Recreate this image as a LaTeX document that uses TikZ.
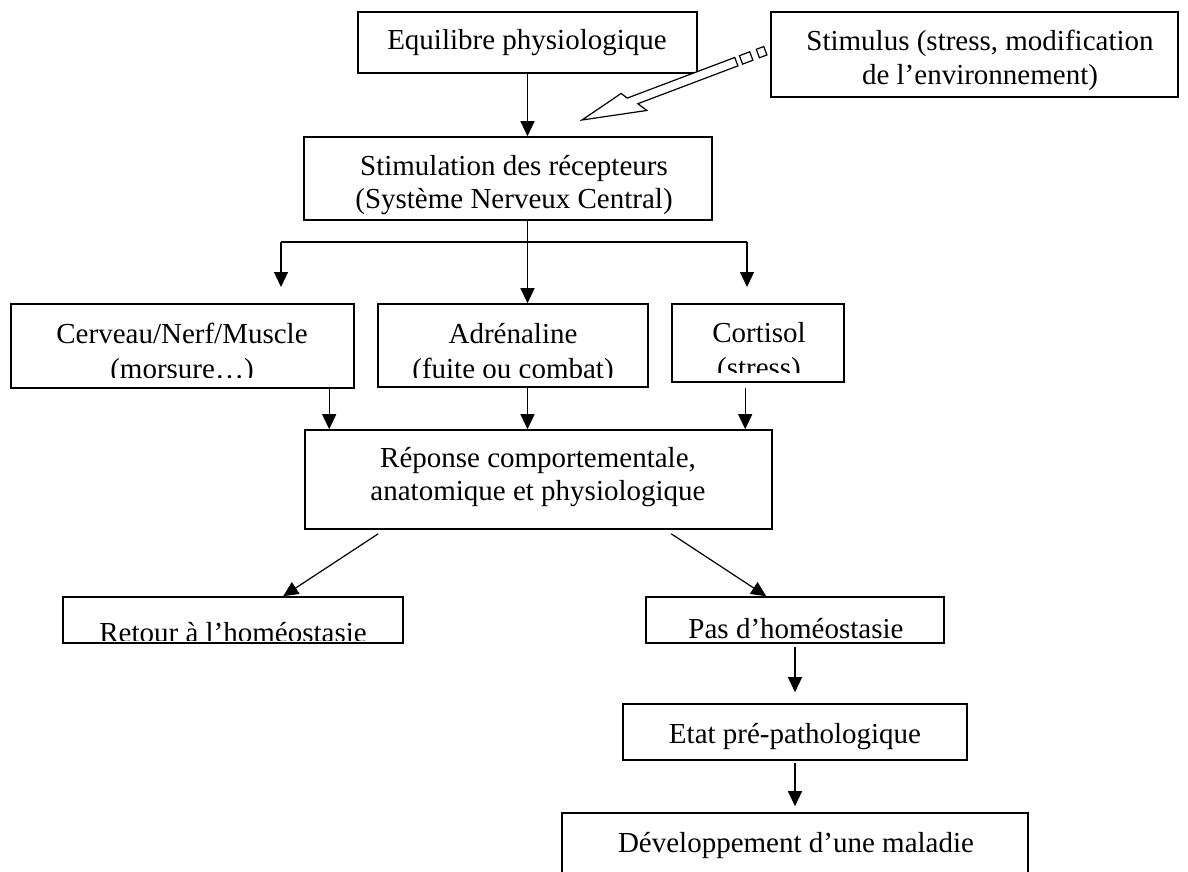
\documentclass[tikz,border=0pt]{standalone}
\usepackage{fontspec}
\setmainfont{Liberation Serif}
\usetikzlibrary{arrows.meta,fit,calc}
\begin{document}
\begin{tikzpicture}[x=0.5pt,y=-0.5pt,
  box/.style={draw, line width=0.8pt, inner sep=0pt, rectangle},
  txt/.style={anchor=base, inner sep=0pt, font=\fontsize{14.5}{17.5}\selectfont},
  arr/.style={line width=0.6pt, -{Triangle[length=7.5pt,width=7pt]}},
  ln/.style={line width=0.6pt}]
\path[use as bounding box] (0,0) rectangle (1188,872);
\clip (0,0) rectangle (1188,872);

% boxes
\node[box, fit={(358,12) (697,73)}] (equi) {};
\node[box, fit={(771,12) (1178,97)}] (stimu) {};
\node[box, fit={(304,137) (712,220)}] (recep) {};
\node[box, fit={(11,304) (354,388)}] (cerv) {};
\node[box, fit={(378,304) (648,387)}] (adre) {};
\node[box, fit={(672,304) (844,382)}] (cort) {};
\node[box, fit={(305,430) (772,529)}] (rep) {};
\node[box, fit={(63,597) (403,643)}] (ret) {};
\node[box, fit={(646,597) (944,643)}] (pas) {};
\node[box, fit={(623,704) (967,760)}] (etat) {};
\node[box, fit={(562,813) (1028,900)}] (dev) {};

% texts
\node[txt] (equiT) at (527,50) {Equilibre physiologique};
\node[txt] (stimuT1) at (980,51) {Stimulus (stress, modification};
\node[txt] (stimuT2) at (980,85) {de l’environnement)};
\node[txt] (recepT1) at (514,175) {Stimulation des récepteurs};
\node[txt] (recepT2) at (514,208) {(Système Nerveux Central)};
\node[txt] (cervT1) at (182,343) {Cerveau/Nerf/Muscle};
\begin{scope}
\clip (11,304) rectangle (354,377);
\node[txt] (cervT2) at (182,378) {(morsure…)};
\end{scope}
\node[txt] (adreT1) at (513,343) {Adrénaline};
\begin{scope}
\clip (378,304) rectangle (648,377);
\node[txt] (adreT2) at (513,378) {(fuite ou combat)};
\end{scope}
\node[txt] (cortT1) at (759,342) {Cortisol};
\begin{scope}
\clip (672,304) rectangle (844,372);
\node[txt] (cortT2) at (759,377) {(stress)};
\end{scope}
\node[txt] (repT1) at (538,467) {Réponse comportementale,};
\node[txt] (repT2) at (538,500) {anatomique et physiologique};
\begin{scope}
\clip (63,597) rectangle (403,640);
\node[txt] (retT) at (233,642) {Retour à l’homéostasie};
\end{scope}
\begin{scope}
\clip (646,597) rectangle (944,639);
\node[txt] (pasT) at (796,638) {Pas d’homéostasie};
\end{scope}
\node[txt] (etatT) at (795,743) {Etat pré-pathologique};
\node[txt] (devT) at (796,852) {Développement d’une maladie};

% connectors
\draw[arr] (equi.south) -- (equi.south |- recep.north);
\draw[arr] (equi.south |- recep.south) -- (equi.south |- adre.north);
\coordinate (bl) at (281,242);
\coordinate (br) at (747,242);
\coordinate (blend) at (281,287);
\coordinate (brend) at (747,287);
\draw[ln] (bl) -- (br);
\draw[arr] (bl) -- (blend);
\draw[arr] (br) -- (brend);

\coordinate (c1) at ($(cerv.south west)+(319,0)$);
\draw[arr] (c1) -- (c1 |- rep.north);
\draw[arr] (equi.south |- adre.south) -- (equi.south |- rep.north);
\coordinate (c3) at ($(cort.south west)+(74,5)$);
\draw[arr] (c3) -- (c3 |- rep.north);

\coordinate (d1) at ($(rep.south west)+(74,4)$);
\coordinate (d2) at ($(ret.north west)+(221,0)$);
\draw[arr] (d1) -- (d2);
\coordinate (d3) at ($(rep.south west)+(367,4)$);
\coordinate (d4) at ($(pas.north west)+(121,0)$);
\draw[arr] (d3) -- (d4);
\draw[arr] ([yshift=-1.5pt]pas.south) -- ([yshift=5.5pt]etat.north);
\draw[arr] ([yshift=-1pt]etat.south) -- ([yshift=3pt]dev.north);

% hollow striped arrow from the stimulus
\begin{scope}[shift={(582,120)}, rotate=20.7, line width=0.6pt]
\draw[fill=white] (0,0) -- (46,-11) -- (50,-4.5) -- (165,-4.5) -- (165,4.5) -- (58,4.5) -- (64,14) -- cycle;
\draw (170,-4.5) rectangle (181,4.5);
\draw (188,-4.5) rectangle (196,4.5);
\end{scope}
\end{tikzpicture}
\end{document}
